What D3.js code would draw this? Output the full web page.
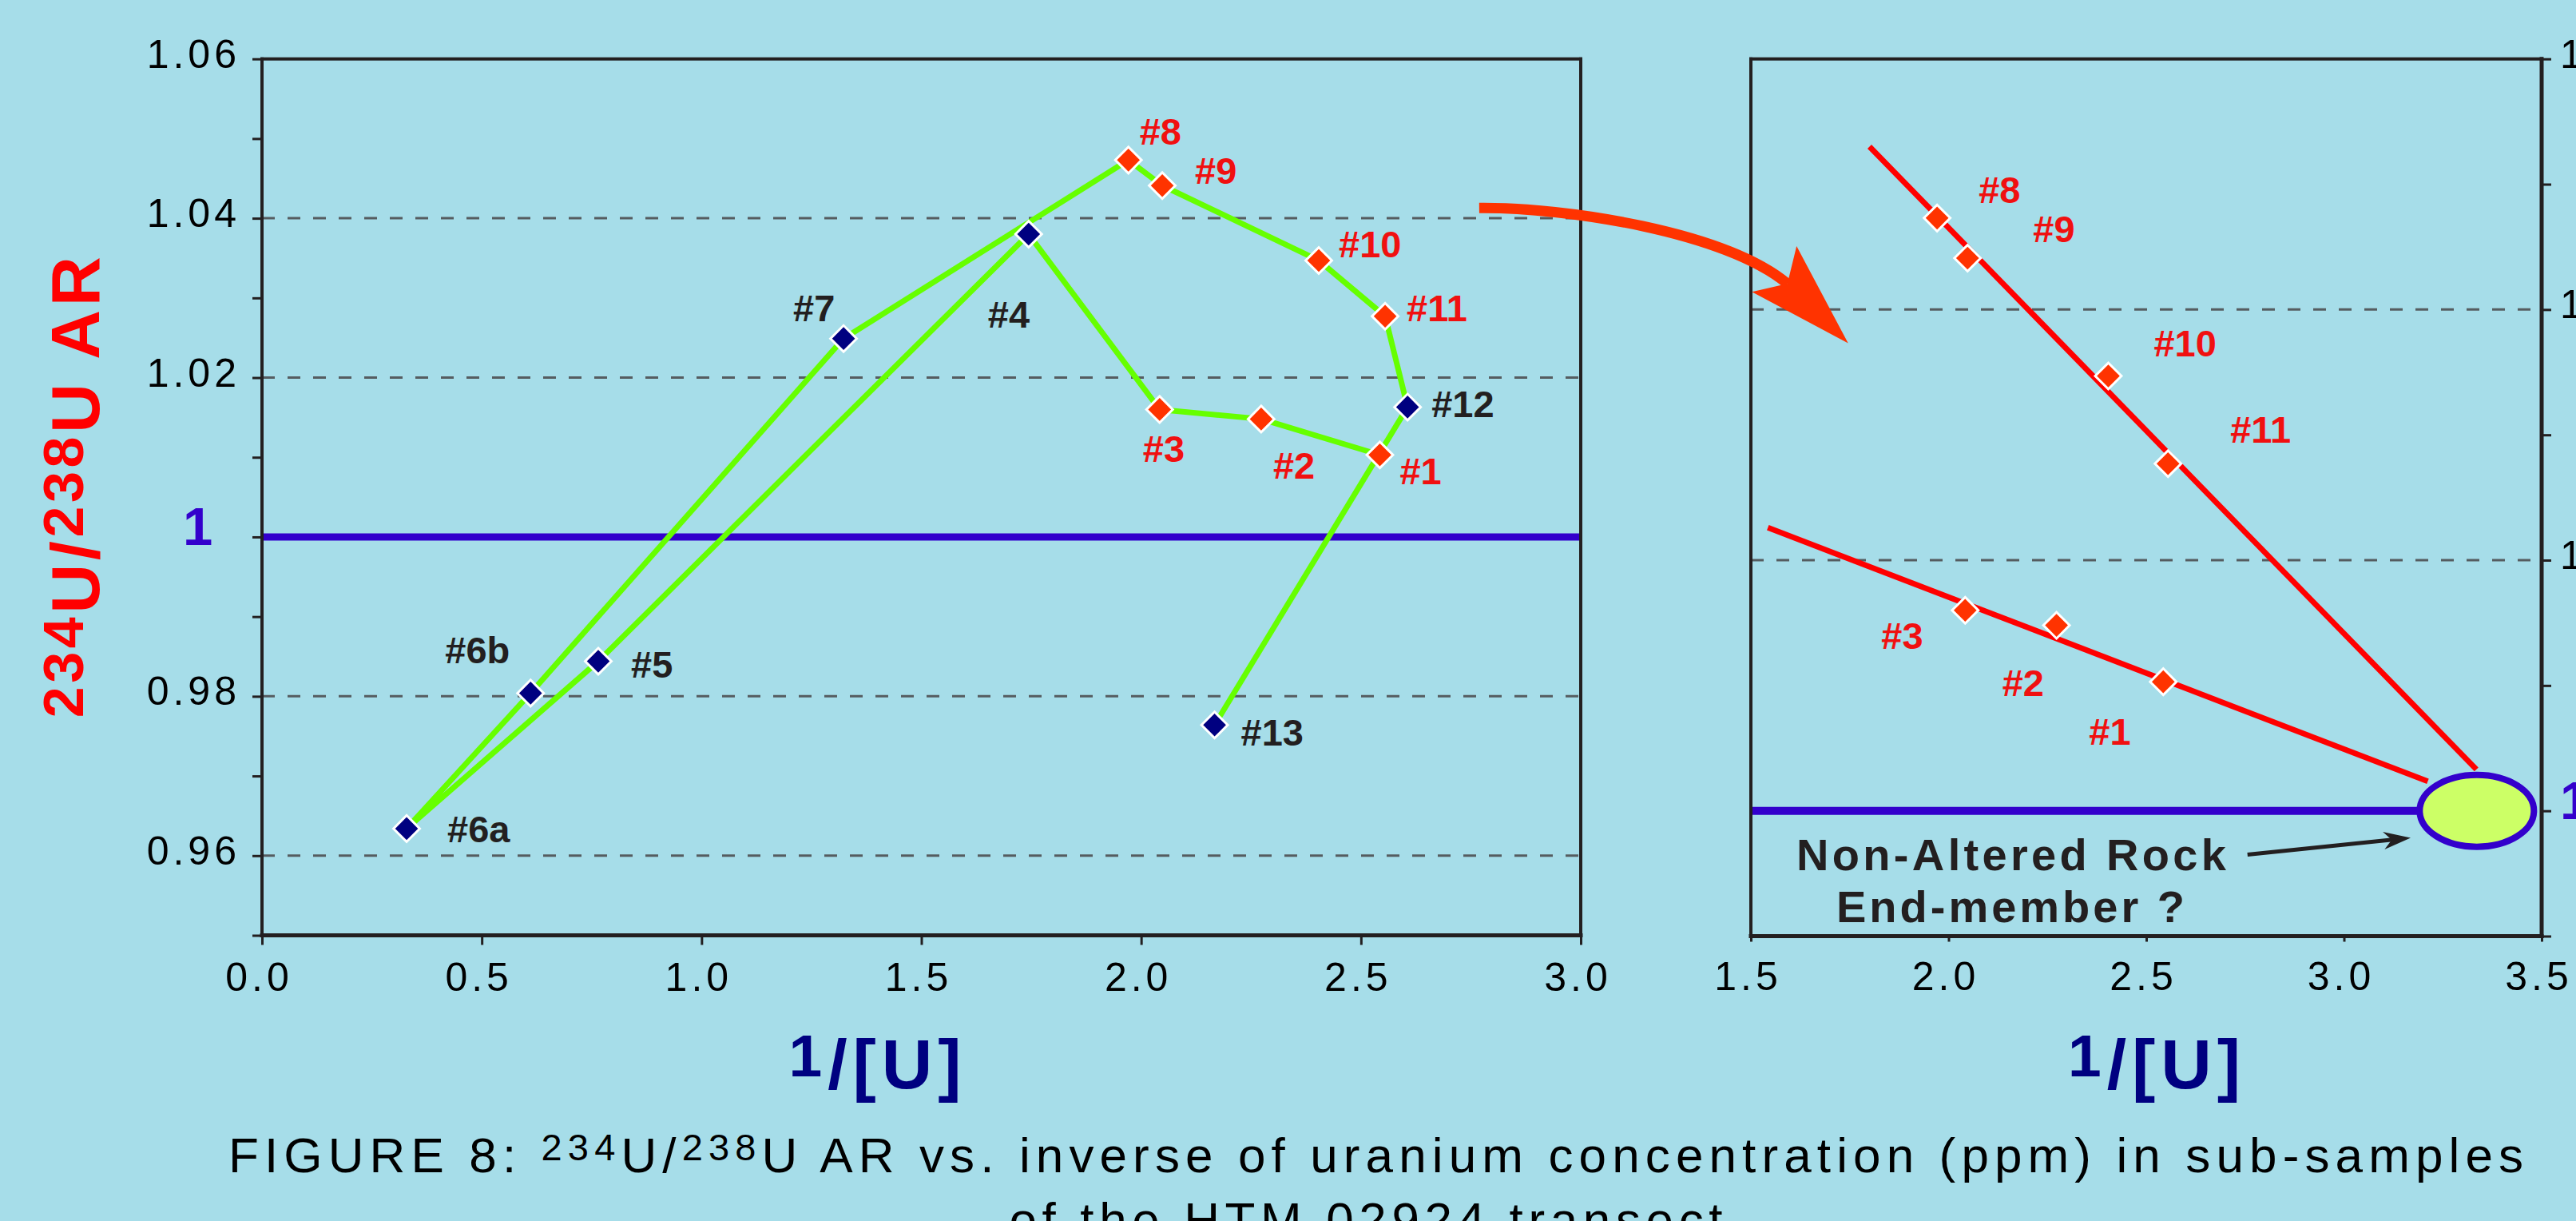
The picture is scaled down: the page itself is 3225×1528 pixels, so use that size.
<!DOCTYPE html>
<html><head><meta charset="utf-8">
<script src="https://cdn.jsdelivr.net/npm/d3@7"></script>
<style>html,body{margin:0;padding:0;background:#a6dde9;overflow:hidden}</style>
</head><body>
<svg id="c" width="3225" height="1528"></svg>
<script>
// ---------------- DATA ----------------
const sampleLabels = ["#1","#2","#3","#4","#5","#6a","#6b","#7","#8","#9","#10","#11","#12","#13"];
const invU  = [2.543, 2.273, 2.042, 1.744, 0.765, 0.329, 0.611, 1.323, 1.971, 2.048, 2.404, 2.555, 2.606, 2.167];
const arU   = [1.0103, 1.0148, 1.0160, 1.0380, 0.9844, 0.9634, 0.9804, 1.0249, 1.0473, 1.0441, 1.0347, 1.0277, 1.0163, 0.9764];
const sampleGroup = ["trend","trend","trend","other","other","other","other","other","trend","trend","trend","trend","other","other"];

const xTicksLeft = [0, 0.5, 1, 1.5, 2, 2.5, 3];
const xTickLabelsLeft = ["0.0","0.5","1.0","1.5","2.0","2.5","3.0"];
const yMajorLeft = [1.06, 1.04, 1.02, 1.00, 0.98, 0.96];
const yMajorLabelsLeft = ["1.06","1.04","1.02","1","0.98","0.96"];
const yMinorLeft = [1.05, 1.03, 1.01, 0.99, 0.97, 0.95];
const gridLeft = [1.04, 1.02, 0.98, 0.96];

const xTicksRight = [1.5, 2, 2.5, 3, 3.5];
const xTickLabelsRight = ["1.5","2.0","2.5","3.0","3.5"];
const yMajorRight = [1.06, 1.04, 1.02, 1.00];
const yMajorLabelsRight = ["1.06","1.04","1.02","1"];
const yMinorRight = [1.05, 1.03, 1.01, 0.99];
const gridRight = [1.04, 1.02];

// mixing trends (1/[U], AR) endpoints, right panel
const trendUpperX = [1.80, 3.335];
const trendUpperY = [1.0530, 1.0033];
const trendLowerX = [1.543, 3.212];
const trendLowerY = [1.0226, 1.00235];
const endMemberX = 3.336, endMemberY = 1.0;

// ---------------- STYLE ----------------
const BG = "#a6dde9", INK = "#231f20", BLUE = "#3300cc", NAVY = "#000080";
const RED = "#f01010", ORANGE = "#ff3300", GREEN = "#66ff00", GRID = "#555c60";
const FF = "'Liberation Sans', Arial, Helvetica, sans-serif";
const labelOffsetLeft = {"#1":[25,37],"#2":[15,75],"#3":[-21,66],"#4":[-51,117],"#5":[41,20],"#6a":[51,17],
  "#6b":[-107,-37],"#7":[-63,-22],"#8":[14,-19],"#9":[41,-2],"#10":[25,-4],"#11":[27,6],"#12":[30,13],"#13":[33,26]};
const labelOffsetRight = {"#1":[-93,79],"#2":[-68,88],"#3":[-105,48],"#8":[52,-19],"#9":[82,-20],"#10":[57,-24],"#11":[78,-26]};

const W = 3225, H = 1528;
const svg = d3.select("#c");
svg.append("rect").attr("width", W).attr("height", H).attr("fill", BG);

const xL = d3.scaleLinear().domain([0, 3]).range([328, 1979]);
const yL = d3.scaleLinear().domain([0.95, 1.06]).range([1170.5, 73.7]);
const xR = d3.scaleLinear().domain([1.5, 3.5]).range([2192, 3182]);
const yR = d3.scaleLinear().domain([0.99, 1.06]).range([1171.5, 73.7]);

const pts = sampleLabels.map((l, i) => ({label: l, x: invU[i], y: arU[i], g: sampleGroup[i]}));
const near = (a, b) => Math.abs(a - b) < 1e-9;

// ---------- LEFT PANEL ----------
const gL = svg.append("g");
gridLeft.forEach(v => gL.append("line").attr("x1", xL(0)).attr("x2", xL(3)).attr("y1", yL(v)).attr("y2", yL(v))
  .attr("stroke", GRID).attr("stroke-width", 3).attr("stroke-dasharray", "16,16"));
gL.append("line").attr("x1", xL(0)).attr("x2", xL(3)).attr("y1", yL(1)).attr("y2", yL(1))
  .attr("stroke", BLUE).attr("stroke-width", 9);

gL.append("path").datum(pts).attr("fill", "none").attr("stroke", GREEN).attr("stroke-width", 7)
  .attr("stroke-linejoin", "round").attr("d", d3.line().x(d => xL(d.x)).y(d => yL(d.y)));

const sym = d3.symbol().type(d3.symbolSquare).size(540);
gL.selectAll("path.m").data(pts).join("path").attr("class", "m")
  .attr("transform", d => `translate(${xL(d.x)},${yL(d.y)}) rotate(45)`)
  .attr("d", sym).attr("fill", d => d.g === "trend" ? ORANGE : NAVY).attr("stroke", "#fff").attr("stroke-width", 3);
gL.selectAll("text.lab").data(pts).join("text").attr("class", "lab")
  .attr("x", d => xL(d.x) + labelOffsetLeft[d.label][0]).attr("y", d => yL(d.y) + labelOffsetLeft[d.label][1])
  .attr("font-family", FF).attr("font-weight", "bold").attr("font-size", 47)
  .attr("fill", d => d.g === "trend" ? RED : INK).text(d => d.label);

// frame
const fr = (x1, y1, x2, y2, w) => svg.append("line").attr("x1", x1).attr("y1", y1).attr("x2", x2).attr("y2", y2)
  .attr("stroke", INK).attr("stroke-width", w).attr("stroke-linecap", "square");
fr(xL(0), yL(1.06), xL(3), yL(1.06), 4);
fr(xL(3), yL(1.06), xL(3), yL(0.95), 4);
fr(xL(0), yL(1.06), xL(0), yL(0.95), 4);
fr(xL(0), yL(0.95), xL(3), yL(0.95), 5);

function styleAxis(g) {
  g.select(".domain").remove();
  g.attr("font-size", null).attr("font-family", null);
  g.selectAll("line").attr("stroke", INK).attr("stroke-width", 3);
  g.selectAll("text").attr("font-family", FF).attr("font-size", 50).attr("fill", "#000")
    .style("letter-spacing", "5px");
}

const ayL = svg.append("g").attr("transform", `translate(${xL(0)},0)`)
  .call(d3.axisLeft(yL).tickValues(yMajorLeft.concat(yMinorLeft)).tickSize(12).tickPadding(15)
    .tickFormat(d => { const i = yMajorLeft.findIndex(v => near(v, d)); return i >= 0 ? yMajorLabelsLeft[i] : ""; }));
styleAxis(ayL);
ayL.selectAll("text").attr("dy", "10.5");
ayL.selectAll("text").filter(d => near(d, 1)).attr("font-weight", "bold").attr("font-size", 67)
  .attr("fill", BLUE).style("letter-spacing", "0px").attr("text-anchor", "start").attr("x", -99).attr("dy", 10);

const axL = svg.append("g").attr("transform", `translate(0,${yL(0.95)})`)
  .call(d3.axisBottom(xL).tickValues(xTicksLeft).tickSize(12)
    .tickFormat((d, i) => xTickLabelsLeft[i]));
styleAxis(axL);
axL.selectAll("text").attr("y", 69.5).attr("dy", 0).attr("dx", -4);

// ---------- RIGHT PANEL ----------
const gR = svg.append("g");
gridRight.forEach(v => gR.append("line").attr("x1", xR(1.5)).attr("x2", xR(3.5)).attr("y1", yR(v)).attr("y2", yR(v))
  .attr("stroke", GRID).attr("stroke-width", 3).attr("stroke-dasharray", "16,16"));
gR.append("line").attr("x1", xR(1.5)).attr("x2", xR(endMemberX)).attr("y1", yR(1)).attr("y2", yR(1))
  .attr("stroke", BLUE).attr("stroke-width", 10);
[[trendUpperX, trendUpperY], [trendLowerX, trendLowerY]].forEach(([xs, ys]) =>
  gR.append("line").attr("x1", xR(xs[0])).attr("y1", yR(ys[0])).attr("x2", xR(xs[1])).attr("y2", yR(ys[1]))
    .attr("stroke", "#ff0000").attr("stroke-width", 7));
gR.append("ellipse").attr("cx", xR(endMemberX)).attr("cy", yR(endMemberY)).attr("rx", 71.5).attr("ry", 45)
  .attr("fill", "#ccff66").attr("stroke", BLUE).attr("stroke-width", 8);

const rpts = pts.filter(d => d.g === "trend");
gR.selectAll("path.m").data(rpts).join("path").attr("class", "m")
  .attr("transform", d => `translate(${xR(d.x)},${yR(d.y)}) rotate(45)`)
  .attr("d", sym).attr("fill", ORANGE).attr("stroke", "#fff").attr("stroke-width", 3);
gR.selectAll("text.lab").data(rpts).join("text").attr("class", "lab")
  .attr("x", d => xR(d.x) + labelOffsetRight[d.label][0]).attr("y", d => yR(d.y) + labelOffsetRight[d.label][1])
  .attr("font-family", FF).attr("font-weight", "bold").attr("font-size", 47).attr("fill", RED).text(d => d.label);

// annotation text + arrow
const ann = gR.append("text").attr("font-family", FF).attr("font-weight", "bold").attr("font-size", 56)
  .attr("fill", INK).attr("text-anchor", "middle");
ann.append("tspan").attr("x", 2518).attr("y", 1089).attr("textLength", 538).attr("lengthAdjust", "spacing").text("Non-Altered Rock");
ann.append("tspan").attr("x", 2517).attr("y", 1154).attr("textLength", 436).attr("lengthAdjust", "spacing").text("End-member ?");
{
  const s = [xR(2.756), yR(0.9965)], t = [xR(3.1687), yR(0.99784)];
  const dx = t[0] - s[0], dy = t[1] - s[1], L = Math.hypot(dx, dy), ux = dx / L, uy = dy / L, px = -uy, py = ux;
  const hl = 34, hw = 11;
  gR.append("line").attr("x1", s[0]).attr("y1", s[1]).attr("x2", t[0] - ux * 20).attr("y2", t[1] - uy * 20)
    .attr("stroke", INK).attr("stroke-width", 5);
  const b = [t[0] - ux * hl, t[1] - uy * hl];
  gR.append("path").attr("fill", INK).attr("d",
    `M${t[0]},${t[1]} L${b[0] + px * hw},${b[1] + py * hw} L${t[0] - ux * hl * 0.7},${t[1] - uy * hl * 0.7} L${b[0] - px * hw},${b[1] - py * hw} Z`);
}

fr(xR(1.5), yR(1.06), xR(3.5), yR(1.06), 4);
fr(xR(1.5), yR(1.06), xR(1.5), yR(0.99), 4);
fr(xR(3.5), yR(1.06), xR(3.5), yR(0.99), 5);
fr(xR(1.5), yR(0.99), xR(3.5), yR(0.99), 5);

const ayR = svg.append("g").attr("transform", `translate(${xR(3.5)},0)`)
  .call(d3.axisRight(yR).tickValues(yMajorRight.concat(yMinorRight)).tickSize(12).tickPadding(11)
    .tickFormat(d => { const i = yMajorRight.findIndex(v => near(v, d)); return i >= 0 ? yMajorLabelsRight[i] : ""; }));
styleAxis(ayR);
ayR.selectAll("text").attr("dy", "10.5");
ayR.selectAll("text").filter(d => near(d, 1)).attr("font-weight", "bold").attr("font-size", 67)
  .attr("fill", BLUE).style("letter-spacing", "0px").attr("dy", 10);

const axR = svg.append("g").attr("transform", `translate(0,${yR(0.99)})`)
  .call(d3.axisBottom(xR).tickValues(xTicksRight).tickSize(7)
    .tickFormat((d, i) => xTickLabelsRight[i]));
styleAxis(axR);
axR.selectAll("text").attr("y", 67).attr("dy", 0).attr("dx", -4);

// ---------- curved arrow between panels ----------
{
  const s = [xL(2.769), yL(1.0413)];
  const c1 = [s[0] + 108, s[1] - 1], c2 = [xR(1.4354), yR(1.0462)];
  const n = [xR(1.5923), yR(1.04206)];
  svg.append("path").attr("fill", "none").attr("stroke", ORANGE).attr("stroke-width", 13)
    .attr("d", `M${s[0]},${s[1]} C${c1[0]},${c1[1]} ${c2[0]},${c2[1]} ${n[0]},${n[1]}`);
  const tip = [xR(1.746), yR(1.03731)], bTop = [xR(1.6156), yR(1.04506)], bLeft = [xR(1.5026), yR(1.04141)];
  svg.append("path").attr("fill", ORANGE)
    .attr("d", `M${bTop[0]},${bTop[1]} L${tip[0]},${tip[1]} L${bLeft[0]},${bLeft[1]} L${n[0]},${n[1]} Z`);
}

// ---------- axis titles ----------
function xTitle(cx) {
  const t = svg.append("text").attr("x", cx).attr("y", 1362).attr("text-anchor", "middle")
    .attr("font-family", FF).attr("font-weight", "bold").attr("fill", NAVY)
    .attr("textLength", 216).attr("lengthAdjust", "spacing");
  t.append("tspan").attr("font-size", 75).attr("dy", -15).text("1");
  t.append("tspan").attr("font-size", 88).attr("dy", 15).text("/[U]");
}
xTitle(1095.5);
xTitle(2697);

{
  const t = svg.append("text").attr("transform", "translate(124,609.7) rotate(-90)").attr("text-anchor", "middle")
    .attr("font-family", FF).attr("font-weight", "bold").attr("fill", "#ff0000")
    .attr("textLength", 577).attr("lengthAdjust", "spacing");
  t.append("tspan").attr("font-size", 70).attr("dy", -20).text("234");
  t.append("tspan").attr("font-size", 86).attr("dy", 20).text("U/");
  t.append("tspan").attr("font-size", 70).attr("dy", -20).text("238");
  t.append("tspan").attr("font-size", 86).attr("dy", 20).text("U AR");
}

// ---------- caption ----------
{
  const t = svg.append("text").attr("x", 1722.5).attr("y", 1467).attr("text-anchor", "middle")
    .attr("font-family", FF).attr("font-size", 62).attr("fill", "#000")
    .attr("textLength", 2873).attr("lengthAdjust", "spacing");
  t.append("tspan").text("FIGURE 8: ");
  t.append("tspan").attr("font-size", 47).attr("dy", -15).text("234");
  t.append("tspan").attr("dy", 15).text("U/");
  t.append("tspan").attr("font-size", 47).attr("dy", -15).text("238");
  t.append("tspan").attr("dy", 15).text("U AR vs. inverse of uranium concentration (ppm) in sub-samples");
  svg.append("text").attr("x", 1710).attr("y", 1548).attr("text-anchor", "middle")
    .attr("font-family", FF).attr("font-size", 62).attr("fill", "#000")
    .attr("textLength", 893).attr("lengthAdjust", "spacing").text("of the HTM 02924 transect");
}
</script>
</body></html>
